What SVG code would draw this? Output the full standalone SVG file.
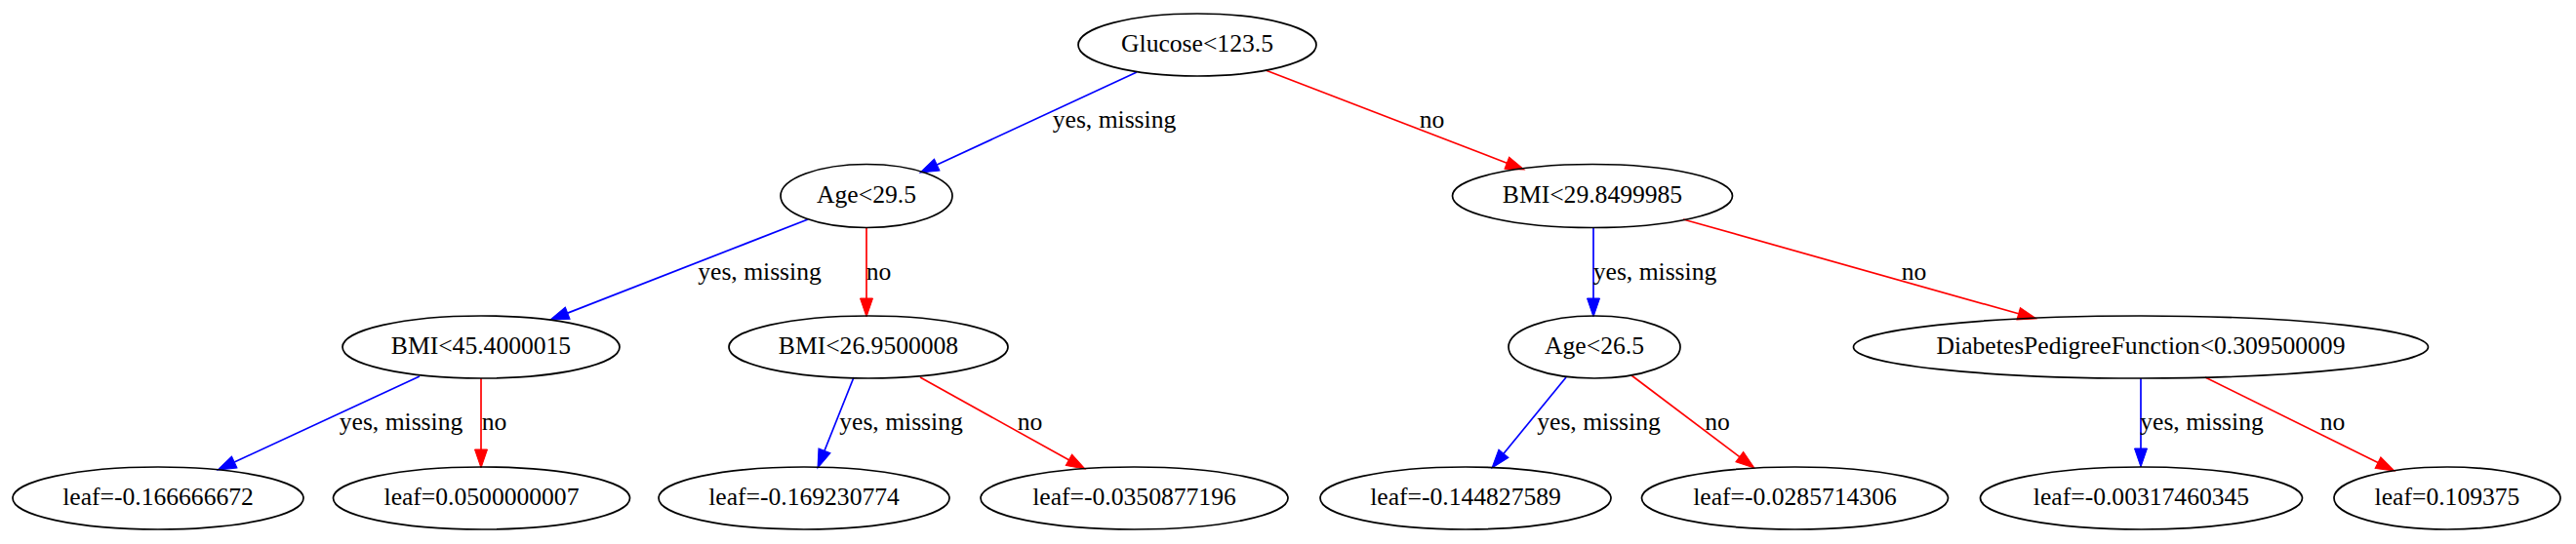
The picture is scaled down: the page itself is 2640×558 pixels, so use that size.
<svg xmlns="http://www.w3.org/2000/svg" width="2640" height="558" viewBox="0 0 2640 558">
<style>
  text { font-family: 'Liberation Serif', serif; font-size: 25.6px; fill: #000; text-anchor: middle; }
  .node ellipse { fill: none; stroke: #000; stroke-width: 1.7; }
  .yes { stroke: #0000ff; stroke-width: 1.7; fill: none; marker-end: url(#ab); }
  .no { stroke: #ff0000; stroke-width: 1.7; fill: none; marker-end: url(#ar); }
</style>
<defs>
  <marker id="ab" markerUnits="userSpaceOnUse" markerWidth="20" markerHeight="14" viewBox="0 -7 20 14" refX="0" refY="0" orient="auto" overflow="visible">
    <path d="M0,-6.5 L19,0 L0,6.5 z" fill="#0000ff" stroke="#0000ff" stroke-width="1"/>
  </marker>
  <marker id="ar" markerUnits="userSpaceOnUse" markerWidth="20" markerHeight="14" viewBox="0 -7 20 14" refX="0" refY="0" orient="auto" overflow="visible">
    <path d="M0,-6.5 L19,0 L0,6.5 z" fill="#ff0000" stroke="#ff0000" stroke-width="1"/>
  </marker>
</defs>
<rect width="2640" height="558" fill="#fff"/>
<g id="connectors" font-family="Liberation Serif, serif">
  <line class="yes" x1="1165" y1="74" x2="960.2" y2="169.0"/>
  <line class="no" x1="1297" y1="72" x2="1544.3" y2="167.2"/>
  <line class="yes" x1="828" y1="225" x2="581.7" y2="321.1"/>
  <line class="no" x1="888" y1="233" x2="888" y2="306"/>
  <line class="yes" x1="1633" y1="233" x2="1633" y2="306"/>
  <line class="no" x1="1725" y1="225" x2="2068.7" y2="321.8"/>
  <line class="yes" x1="430" y1="386" x2="240.2" y2="474.0"/>
  <line class="no" x1="493" y1="388" x2="493" y2="461"/>
  <line class="yes" x1="875" y1="387" x2="845.0" y2="462.3"/>
  <line class="no" x1="943" y1="387" x2="1095.4" y2="471.8"/>
  <line class="yes" x1="1605" y1="387" x2="1541.0" y2="465.3"/>
  <line class="no" x1="1672" y1="385" x2="1782.8" y2="468.6"/>
  <line class="yes" x1="2194" y1="388" x2="2194" y2="460"/>
  <line class="no" x1="2260" y1="387" x2="2437" y2="474.6"/>
  <text x="1142" y="131">yes, missing</text>
  <text x="1467.5" y="131">no</text>
  <text x="778.5" y="287">yes, missing</text>
  <text x="900.5" y="287">no</text>
  <text x="1696" y="287">yes, missing</text>
  <text x="1961.5" y="287">no</text>
  <text x="411" y="441">yes, missing</text>
  <text x="506.5" y="441">no</text>
  <text x="923.5" y="441">yes, missing</text>
  <text x="1055.5" y="441">no</text>
  <text x="1638.5" y="441">yes, missing</text>
  <text x="1760" y="441">no</text>
  <text x="2256.5" y="441">yes, missing</text>
  <text x="2390.5" y="441">no</text>
</g>
<g id="n0" class="node"><ellipse cx="1227" cy="46" rx="122" ry="32"/><text x="1227" y="53">Glucose&lt;123.5</text></g>
<g id="n1" class="node"><ellipse cx="888" cy="201" rx="88" ry="32.5"/><text x="888" y="208">Age&lt;29.5</text></g>
<g id="n2" class="node"><ellipse cx="1632" cy="201" rx="143.5" ry="32.5"/><text x="1632" y="208">BMI&lt;29.8499985</text></g>
<g id="n3" class="node"><ellipse cx="493" cy="356" rx="142" ry="32"/><text x="493" y="363">BMI&lt;45.4000015</text></g>
<g id="n4" class="node"><ellipse cx="890" cy="356" rx="143" ry="32"/><text x="890" y="363">BMI&lt;26.9500008</text></g>
<g id="n5" class="node"><ellipse cx="1634" cy="356" rx="88" ry="32"/><text x="1634" y="363">Age&lt;26.5</text></g>
<g id="n6" class="node"><ellipse cx="2194" cy="356" rx="294.5" ry="32"/><text x="2194" y="363">DiabetesPedigreeFunction&lt;0.309500009</text></g>
<g id="n7" class="node"><ellipse cx="162" cy="511" rx="149" ry="32"/><text x="162" y="518">leaf=-0.166666672</text></g>
<g id="n8" class="node"><ellipse cx="493.5" cy="511" rx="152" ry="32"/><text x="493.5" y="518">leaf=0.0500000007</text></g>
<g id="n9" class="node"><ellipse cx="824" cy="511" rx="149" ry="32"/><text x="824" y="518">leaf=-0.169230774</text></g>
<g id="n10" class="node"><ellipse cx="1162.5" cy="511" rx="157.5" ry="32"/><text x="1162.5" y="518">leaf=-0.0350877196</text></g>
<g id="n11" class="node"><ellipse cx="1502" cy="511" rx="149" ry="32"/><text x="1502" y="518">leaf=-0.144827589</text></g>
<g id="n12" class="node"><ellipse cx="1839.5" cy="511" rx="157" ry="32"/><text x="1839.5" y="518">leaf=-0.0285714306</text></g>
<g id="n13" class="node"><ellipse cx="2194.5" cy="511" rx="165" ry="32"/><text x="2194.5" y="518">leaf=-0.00317460345</text></g>
<g id="n14" class="node"><ellipse cx="2508" cy="511" rx="116" ry="32"/><text x="2508" y="518">leaf=0.109375</text></g>
</svg>
